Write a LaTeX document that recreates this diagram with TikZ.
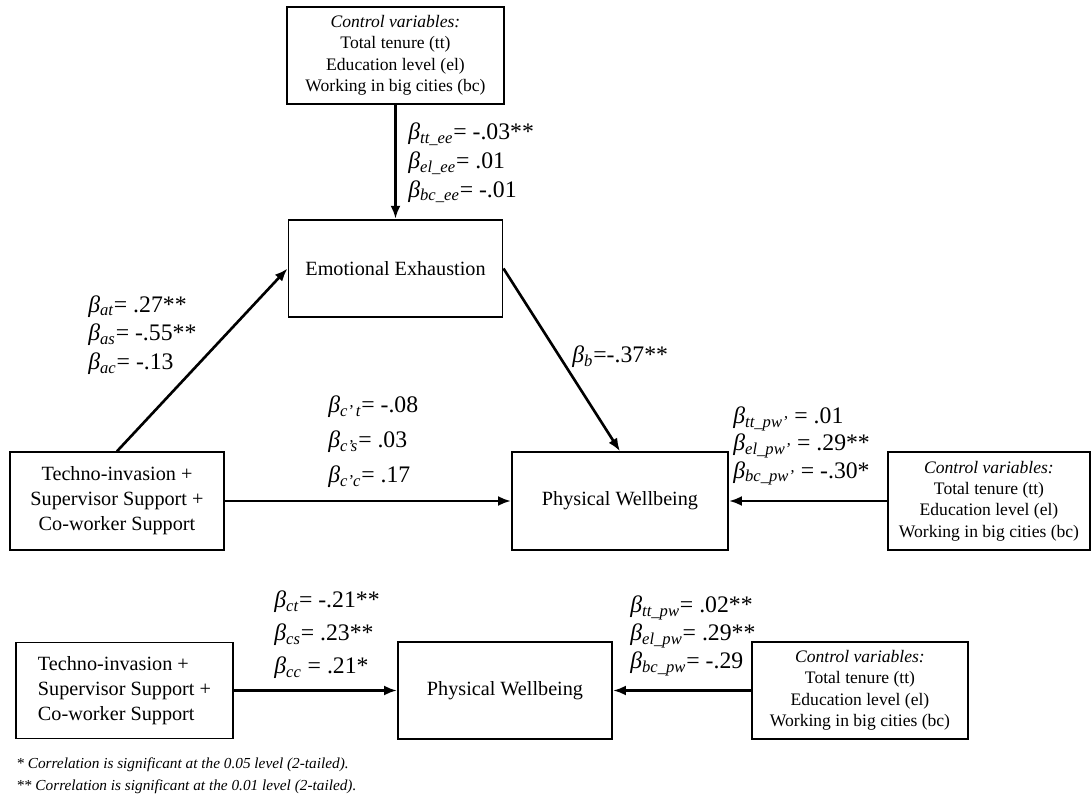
\documentclass[tikz,border=0pt]{standalone}
\usepackage{fontspec}
\setmainfont{Liberation Serif}
\usetikzlibrary{arrows.meta}
\newcommand{\bet}[1]{{\itshape β\textsubscript{#1}}}

\begin{document}
\begin{tikzpicture}
	\tikzstyle{Box}		= [draw, line width=1.1pt, minimum width=4.3cm, minimum height=1.95cm, align=center, font=\fontsize{11.5}{14.2}\selectfont]
	\tikzstyle{Ctrl}	= [Box, font=\fontsize{10}{12.2}\selectfont]
	\tikzstyle{Coef}	= [anchor=west, align=left, inner sep=0pt, font=\fontsize{13.5}{16.4}\selectfont]
	\tikzstyle{Path}	= [line width=1.5pt, -{Latex[length=2.6mm,width=2mm]}]
	\tikzstyle{Note}	= [anchor=west, inner sep=0pt, font=\fontsize{8.7}{10}\selectfont\itshape]

	\useasboundingbox (0,0) rectangle (21.84,-16);

	% mediation model
	\node (ctrlA) at (7.91,-1.11) [Ctrl, minimum width=4.34cm] {\textit{Control variables:}\\Total tenure (tt)\\Education level (el)\\Working in big cities (bc)};
	\node (ee) at (7.91,-5.37) [Box, minimum width=4.28cm] {Emotional Exhaustion};
	\node (tech) at (2.34,-10.02) [Box, minimum width=4.28cm] {Techno-invasion +\\Supervisor Support +\\Co-worker Support};
	\node (pw) at (12.4,-10.02) [Box, minimum width=4.32cm] {Physical Wellbeing};
	\node (ctrlB) at (19.78,-10.02) [Ctrl, minimum width=4.04cm] {\textit{Control variables:}\\Total tenure (tt)\\Education level (el)\\Working in big cities (bc)};

	\draw [Path] (ctrlA) -- (ee);
	\draw [Path] (tech.north) -- (ee.west);
	\draw [Path] (ee.east) -- (pw.north);
	\draw [Path] (tech) -- (pw);
	\draw [Path] (ctrlB) -- (pw);

	\node (coefA) at (8.16,-3.26) [Coef] {\bet{tt\_ee}= -.03**\\\bet{el\_ee}= .01\\\bet{bc\_ee}= -.01};
	\node (coefL) at (1.76,-6.7) [Coef] {\bet{at}= .27**\\\bet{as}= -.55**\\\bet{ac}= -.13};
	\node (coefB) at (11.44,-7.14) [Coef] {\bet{b}=-.37**};
	\node (coefC) at (6.56,-8.84) [Coef, font=\fontsize{13.5}{20}\selectfont] {\bet{c'\,t}= -.08\\\bet{c's}= .03\\\bet{c'c}= .17};
	\node (coefD) at (14.66,-8.92) [Coef, font=\fontsize{13.5}{15.6}\selectfont] {\bet{tt\_pw'} = .01\\\bet{el\_pw'} = .29**\\\bet{bc\_pw'} = -.30*};

	% direct model
	\node (tech2) at (2.49,-13.81) [Box, minimum width=4.34cm, minimum height=1.92cm, align=left] {Techno-invasion +\\Supervisor Support +\\Co-worker Support};
	\node (pw2) at (10.1,-13.81) [Box, minimum width=4.28cm] {Physical Wellbeing};
	\node (ctrlC) at (17.2,-13.81) [Ctrl, minimum width=4.32cm, minimum height=1.94cm] {\textit{Control variables:}\\Total tenure (tt)\\Education level (el)\\Working in big cities (bc)};

	\draw [Path] (tech2) -- (pw2);
	\draw [Path] (ctrlC) -- (pw2);

	\node (coefE) at (5.48,-12.7) [Coef, font=\fontsize{13.5}{18.7}\selectfont] {\bet{ct}= -.21**\\\bet{cs}= .23**\\\bet{cc} = .21*};
	\node (coefF) at (12.6,-12.72) [Coef, font=\fontsize{13.5}{15.8}\selectfont] {\bet{tt\_pw}= .02**\\\bet{el\_pw}= .29**\\\bet{bc\_pw}= -.29};

	\node (note1) at (0.32,-15.3) [Note] {* Correlation is significant at the 0.05 level (2-tailed).};
	\node (note2) at (0.32,-15.74) [Note] {** Correlation is significant at the 0.01 level (2-tailed).};
\end{tikzpicture}
\end{document}
